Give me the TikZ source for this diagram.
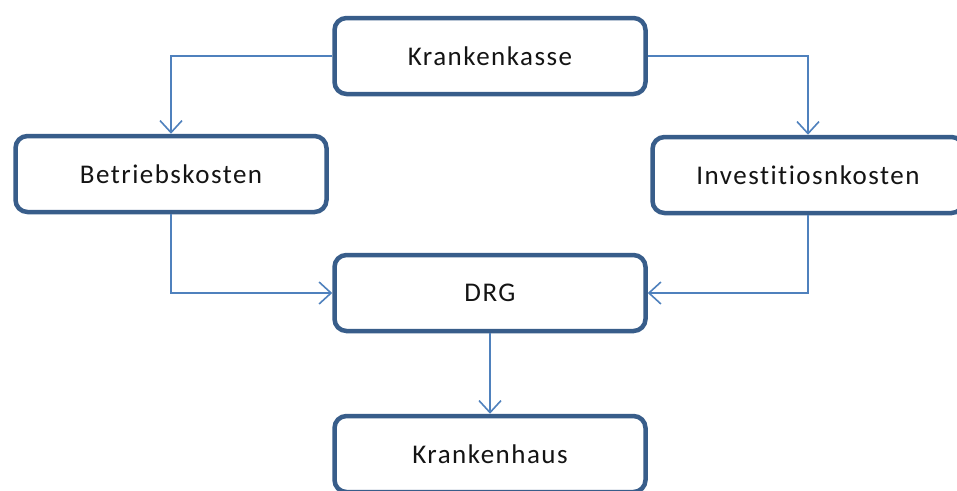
\documentclass[tikz,border=0pt]{standalone}
\usepackage{fontspec}
\newfontfamily\lblfont[LetterSpace=5.5,Ligatures={NoCommon}]{Carlito}
\usetikzlibrary{arrows.meta}
\definecolor{boxborder}{HTML}{385D8A}
\definecolor{connblue}{HTML}{4F81BD}
\definecolor{txtcol}{HTML}{141414}
\tikzset{
  flowbox/.style={draw=boxborder, line width=4.5pt, rounded corners=12pt, fill=white,
    minimum width=311pt, minimum height=76pt, inner sep=0pt,
    font=\lblfont\fontsize{27}{31}\selectfont, text=txtcol},
  conn/.style={draw=connblue, line width=1.6pt,
    -{Straight Barb[length=12pt,width=22pt,line width=1.6pt]}}
}
\begin{document}
\begin{tikzpicture}[x=1pt,y=-1pt]
\useasboundingbox (0,0) rectangle (957,490);
\clip (0,0) rectangle (957,490);
\fill[white] (0,0) rectangle (957,490);
\node[flowbox] (kk) at (490,56) {Krankenkasse};
\node[flowbox] (bk) at (171,174) {Betriebskosten};
\node[flowbox] (ik) at (808,175) {Investitiosnkosten};
\node[flowbox] (drg) at (490,293) {DRG};
\node[flowbox] (kh) at (490,454) {Krankenhaus};
\draw[conn] (kk.west) -| (bk.north);
\draw[conn] (kk.east) -| (ik.north);
\draw[conn] (bk.south) |- (drg.west);
\draw[conn] (ik.south) |- (drg.east);
\draw[conn] (drg.south) -- (kh.north);
\end{tikzpicture}
\end{document}
